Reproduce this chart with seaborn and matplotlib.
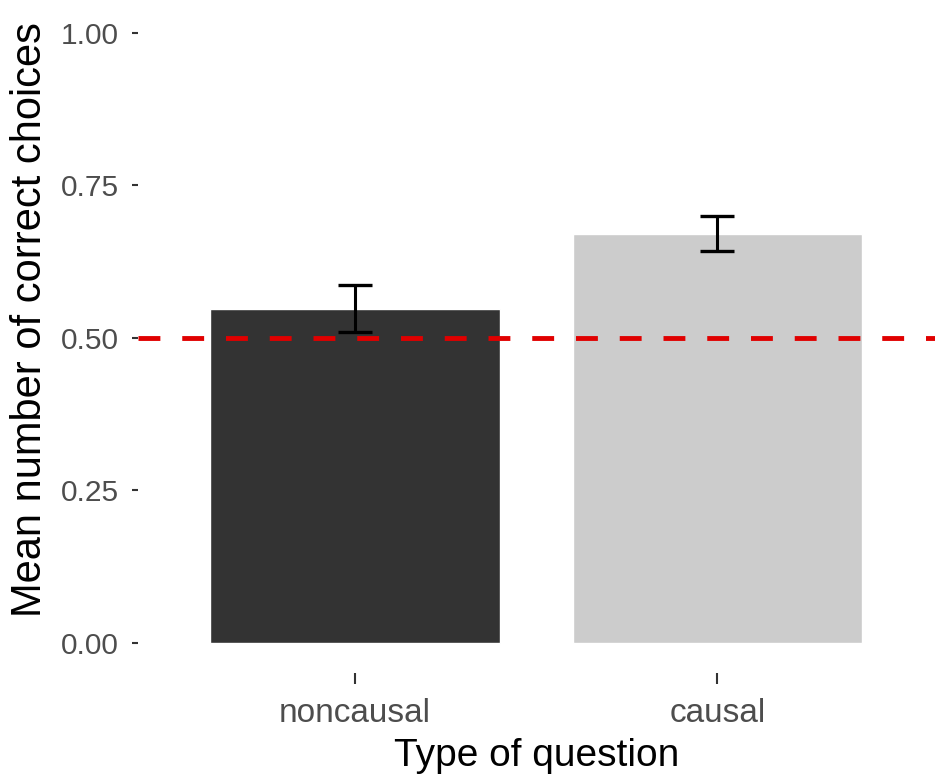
import matplotlib

matplotlib.use("Agg")

import matplotlib.pyplot as plt
import pandas as pd
import seaborn as sns

# values
question_types = ["noncausal", "causal"]
mean_correct = [0.548, 0.671]
std_error = [0.039, 0.029]
chance_level = 0.50
y_ticks = [0.00, 0.25, 0.50, 0.75, 1.00]
bar_colors = ["#333333", "#CCCCCC"]

df = pd.DataFrame({"question": question_types, "mean": mean_correct, "se": std_error})

sns.set_theme(style="white")
plt.rcParams["font.family"] = ["Liberation Sans", "DejaVu Sans"]

fig = plt.figure(figsize=(9.5, 7.84), dpi=100)
ax = fig.add_axes([0.145, 0.141, 0.839, 0.856])

sns.barplot(
    data=df,
    x="question",
    y="mean",
    hue="question",
    palette=bar_colors,
    width=0.8,
    saturation=1,
    legend=False,
    ax=ax,
)

# error bars placed on the bar centres that seaborn drew
centers = [p.get_x() + p.get_width() / 2 for p in ax.patches]
ax.errorbar(
    centers,
    df["mean"],
    yerr=df["se"],
    fmt="none",
    ecolor="black",
    elinewidth=2.2,
    capsize=12.5,
    capthick=2.4,
    zorder=3,
)
ax.axhline(chance_level, color="#E00000", lw=3.5, ls=(0, (4.5, 4.5)), zorder=4)

ax.set_xlim(-0.6, 1.6)
ax.set_ylim(-0.05, 1.05)
ax.set_yticks(y_ticks)
ax.set_yticklabels([f"{t:.2f}" for t in y_ticks])
ax.set_xlabel("Type of question", fontsize=28, color="black", labelpad=6)
ax.set_ylabel("Mean number of correct choices", fontsize=30, color="black")
ax.yaxis.set_label_coords(-0.11, 0.527)

for side in ["top", "right", "bottom", "left"]:
    ax.spines[side].set_visible(False)
ax.tick_params(axis="x", length=8, width=1.5, color="#333333", pad=10,
               labelsize=24, labelcolor="#4D4D4D", bottom=True)
ax.tick_params(axis="y", length=4.5, width=1.5, color="#333333", pad=9,
               labelsize=21.5, labelcolor="#4D4D4D", left=True)
ax.grid(False)

fig.savefig("out.png", dpi=100)
plt.close(fig)
